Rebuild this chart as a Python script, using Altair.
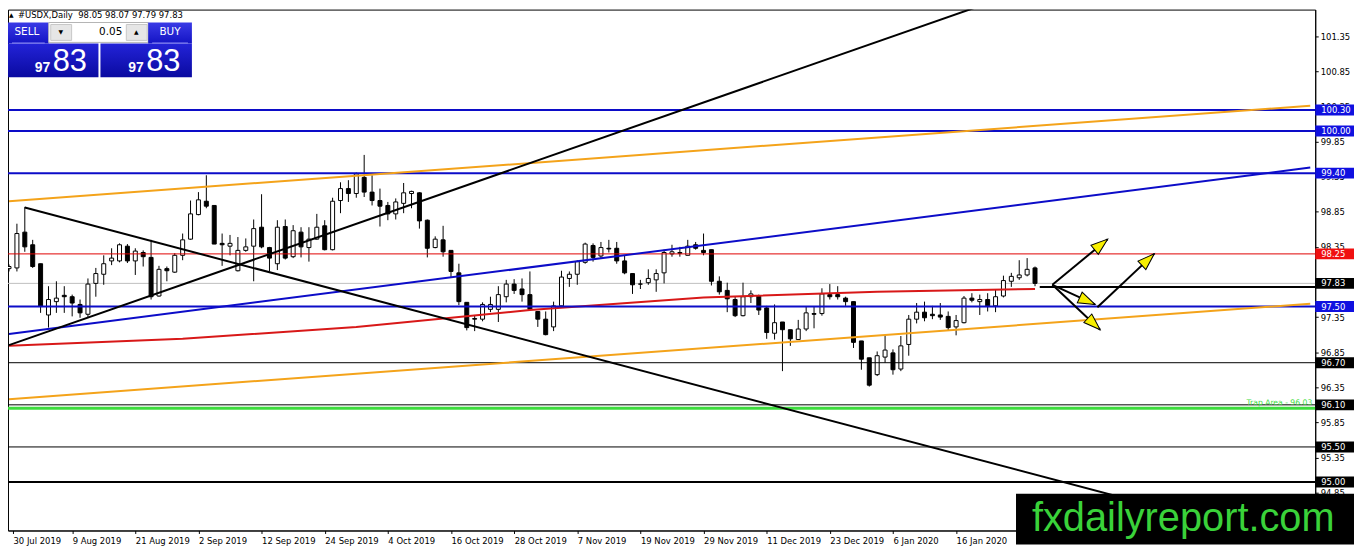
"""USDX daily chart in the MT4 look: candles, trend lines, levels, arrows and the one-click panel."""
import math

import altair as alt
import pandas as pd

FONT = "Liberation Sans"
UI_FONT = "DejaVu Sans"

# --- one candle per bar, 30 Jul 2019 .. end of Jan 2020 (bar index 0..130)
OPEN = [
    98.04, 98.05, 98.56, 98.38, 98.11, 97.38, 97.57, 97.66, 97.64, 97.53,
    97.39, 97.83, 97.96, 98.15, 98.15, 98.36, 98.15, 98.27, 98.20, 97.65,
    98.04, 97.99, 98.23, 98.46, 98.81, 99.00, 98.94, 98.40, 98.36, 98.01,
    98.30, 98.36, 98.63, 98.34, 98.11, 98.64, 98.21, 98.56, 98.34, 98.46,
    98.65, 98.31, 99.01, 99.18, 99.11, 99.34, 99.13, 99.01, 98.94, 98.82,
    98.97, 99.11, 99.12, 98.73, 98.34, 98.45, 98.30, 97.98, 97.56, 97.33,
    97.32, 97.46, 97.46, 97.64, 97.82, 97.75, 97.67, 97.43, 97.32, 97.21,
    97.51, 97.90, 97.96, 98.13, 98.37, 98.22, 98.33, 98.33, 98.15, 97.97,
    97.82, 97.84, 97.88, 97.98, 98.25, 98.27, 98.23, 98.38, 98.30, 98.31,
    97.86, 97.73, 97.60, 97.37, 97.64, 97.65, 97.48, 97.12, 97.28, 97.17,
    97.03, 97.18, 97.40, 97.40, 97.67, 97.67, 97.62, 97.57, 97.01, 96.77,
    96.53, 96.78, 96.84, 96.61, 96.96, 97.32, 97.42, 97.39, 97.38, 97.36,
    97.21, 97.27, 97.62, 97.57, 97.60, 97.51, 97.65, 97.86, 97.91, 97.95,
    98.05,
]
HIGH = [
    98.10, 98.68, 98.92, 98.45, 98.11, 97.79, 97.86, 97.79, 97.67, 97.60,
    97.90, 98.05, 98.23, 98.33, 98.40, 98.39, 98.33, 98.30, 98.45, 98.08,
    98.07, 98.26, 98.54, 99.01, 99.13, 99.37, 98.94, 98.54, 98.52, 98.49,
    98.47, 98.74, 99.10, 98.35, 98.73, 98.74, 98.66, 98.63, 98.63, 98.82,
    98.73, 99.05, 99.27, 99.30, 99.41, 99.66, 99.37, 99.18, 98.99, 99.04,
    99.26, 99.15, 99.13, 98.74, 98.50, 98.65, 98.30, 98.11, 97.56, 97.38,
    97.56, 97.64, 97.79, 97.88, 97.89, 97.90, 98.00, 97.43, 97.43, 97.57,
    98.01, 98.00, 98.16, 98.41, 98.40, 98.42, 98.45, 98.42, 98.23, 97.97,
    97.88, 98.03, 98.03, 98.31, 98.38, 98.35, 98.45, 98.42, 98.54, 98.31,
    97.93, 97.84, 97.64, 97.84, 97.73, 97.67, 97.51, 97.53, 97.28, 97.17,
    97.31, 97.50, 97.50, 97.76, 97.82, 97.79, 97.64, 97.57, 97.01, 96.77,
    96.86, 97.10, 96.89, 97.08, 97.38, 97.55, 97.57, 97.51, 97.55, 97.43,
    97.38, 97.65, 97.69, 97.67, 97.69, 97.74, 97.94, 97.98, 98.16, 98.19,
    98.07,
]
LOW = [
    98.00, 98.00, 98.28, 98.05, 97.41, 97.20, 97.41, 97.41, 97.36, 97.34,
    97.35, 97.64, 97.81, 98.09, 98.13, 98.12, 97.95, 98.07, 97.60, 97.64,
    97.86, 97.98, 98.16, 98.45, 98.80, 98.90, 98.39, 98.08, 98.23, 98.00,
    98.28, 97.86, 98.33, 98.00, 98.02, 98.17, 98.19, 98.20, 98.14, 98.45,
    98.30, 98.30, 98.83, 98.99, 99.05, 99.06, 98.94, 98.64, 98.73, 98.74,
    98.83, 98.90, 98.61, 98.20, 98.33, 98.21, 97.92, 97.52, 97.16, 97.15,
    97.29, 97.42, 97.28, 97.56, 97.68, 97.57, 97.45, 97.21, 97.09, 97.15,
    97.50, 97.78, 97.81, 98.11, 98.14, 98.19, 98.27, 98.11, 97.96, 97.68,
    97.75, 97.81, 97.71, 97.83, 98.21, 98.21, 98.23, 98.31, 98.23, 97.80,
    97.67, 97.42, 97.35, 97.36, 97.55, 97.38, 97.04, 97.03, 96.58, 96.94,
    97.03, 97.15, 97.19, 97.37, 97.60, 97.60, 97.51, 96.91, 96.60, 96.36,
    96.51, 96.70, 96.53, 96.58, 96.80, 97.26, 97.29, 97.32, 97.31, 97.16,
    97.09, 97.26, 97.56, 97.38, 97.43, 97.42, 97.63, 97.78, 97.88, 97.93,
    97.79,
]
CLOSE = [
    98.07, 98.54, 98.35, 98.07, 97.50, 97.60, 97.62, 97.64, 97.55, 97.41,
    97.82, 97.97, 98.11, 98.19, 98.38, 98.15, 98.29, 98.21, 97.64, 98.03,
    98.01, 98.23, 98.45, 98.82, 99.02, 98.93, 98.39, 98.38, 98.40, 98.30,
    98.35, 98.61, 98.35, 98.19, 98.63, 98.19, 98.58, 98.35, 98.46, 98.63,
    98.31, 99.00, 99.18, 99.11, 99.39, 99.13, 99.01, 98.93, 98.82, 98.99,
    99.12, 99.14, 98.72, 98.33, 98.46, 98.28, 98.00, 97.57, 97.20, 97.32,
    97.53, 97.53, 97.67, 97.82, 97.73, 97.67, 97.46, 97.32, 97.10, 97.51,
    97.92, 97.96, 98.14, 98.39, 98.20, 98.34, 98.32, 98.15, 97.98, 97.81,
    97.82, 97.90, 97.97, 98.27, 98.28, 98.26, 98.36, 98.33, 98.27, 97.86,
    97.71, 97.61, 97.37, 97.64, 97.68, 97.45, 97.13, 97.27, 97.17, 97.04,
    97.18, 97.41, 97.39, 97.68, 97.64, 97.64, 97.57, 96.99, 96.75, 96.38,
    96.80, 96.88, 96.60, 96.94, 97.32, 97.42, 97.34, 97.37, 97.35, 97.20,
    97.30, 97.62, 97.59, 97.60, 97.51, 97.64, 97.87, 97.93, 97.95, 98.03,
    97.83,
]

# --- time axis labels (bar index -> date)
TICK_BARS = [0, 8, 16, 24, 32, 40, 48, 56, 64, 72, 80, 88, 96, 104, 112, 120]
TICK_DATES = ["30 Jul 2019", "9 Aug 2019", "21 Aug 2019", "2 Sep 2019", "12 Sep 2019",
              "24 Sep 2019", "4 Oct 2019", "16 Oct 2019", "28 Oct 2019", "7 Nov 2019",
              "19 Nov 2019", "29 Nov 2019", "11 Dec 2019", "23 Dec 2019", "6 Jan 2020",
              "16 Jan 2020"]
PRICE_TICKS = [101.35, 100.85, 100.35, 99.85, 99.35, 98.85, 98.35, 97.85, 97.35,
               96.85, 96.35, 95.85, 95.35, 94.85]

# --- horizontal levels
LEVEL_PRICES = [100.30, 100.00, 99.40, 98.25, 97.50, 96.70, 96.10, 95.50, 95.00]
LEVEL_KIND = ["blue", "blue", "blue", "red", "blue", "thin", "thin", "thin", "thick"]
BID = 97.83
TRAP = 96.05
TRAP_TEXT = "Trap Area - 96.03"

# --- price tags on the right scale
TAG_PRICES = [100.30, 100.00, 99.40, 98.25, 97.83, 97.50, 96.70, 96.10, 95.50, 95.00]
TAG_TEXT = ["100.30", "100.00", "99.40", "98.25", "97.83", "97.50", "96.70", "96.10", "95.50", "95.00"]
TAG_BG = ["#1010e0", "#1010e0", "#1010e0", "#f01010", "#000000", "#1010e0",
          "#000000", "#000000", "#000000", "#000000"]

# --- trend lines (bar index, price) -> (bar index, price)
TREND_KIND = ["orange", "orange", "blue", "black", "black"]
TREND_X0 = [0, 0, 0, 0, 2]
TREND_P0 = [99.00, 96.18, 97.11, 96.95, 98.91]
TREND_X1 = [164.875, 164.875, 164.875, 125, 164.875]
TREND_P1 = [100.36, 97.54, 99.48, 101.86, 94.07]

# --- moving average
MA_BARS = [0, 22, 44, 66, 88, 110, 130]
MA_VALUES = [96.94, 97.04, 97.21, 97.45, 97.63, 97.71, 97.75]

# --- horizontal ray from the last bar, and the scenario arrows
RAY_BAR, RAY_PRICE = 130.6, 97.78
ARROW_X0 = [132.2, 132.2, 132.2, 137.9]
ARROW_P0 = [97.81, 97.81, 97.81, 97.49]
ARROW_X1 = [139.2, 137.6, 138.25, 145.1]
ARROW_P1 = [98.46, 97.53, 97.17, 98.25]

W, H = 1315, 524               # plot area in px
X_LO, X_HI = 0.5, 164.875      # bar index at the left / right border
Y_LO, Y_HI = 94.31, 101.73
PX_BAR = W / (X_HI - X_LO)
PX_PT = H / (Y_HI - Y_LO)

BLUE = "#0c0cc8"
ORANGE = "#f4a31a"
STYLE_COLOR = {"blue": BLUE, "red": "#e00000", "thin": "black", "thick": "black",
               "orange": ORANGE, "black": "black"}
STYLE_WIDTH = {"blue": 2, "red": 1, "thin": 1, "thick": 2}

XS = alt.Scale(domain=[X_LO, X_HI], nice=False, zero=False)
YS = alt.Scale(domain=[Y_LO, Y_HI], nice=False, zero=False)
DECO = pd.DataFrame({"k": [0]})

tick_vals = [max(b, X_LO) for b in TICK_BARS]
label_expr = "{" + ", ".join(f"'{v:g}': '{t}'" for v, t in zip(tick_vals, TICK_DATES)) + "}[datum.value]"
X_AXIS = alt.Axis(values=tick_vals, labelExpr=label_expr, labelAlign="left", labelBaseline="top",
                  labelPadding=3, tickSize=3, labelOverlap=False, labelFlush=False,
                  labelBound=False, grid=False, labelFontSize=8.5)
Y_AXIS = alt.Axis(orient="right", values=PRICE_TICKS, format=".2f", tickSize=3, labelPadding=2,
                  labelOverlap=False, labelFlush=False, grid=False, labelFontSize=8.5)


def xq(field):
    # every layer carries the same axis so the shared axis merges cleanly
    return alt.X(f"{field}:Q", scale=XS, axis=X_AXIS, title=None)


def yq(field):
    return alt.Y(f"{field}:Q", scale=YS, axis=Y_AXIS, title=None)


def box(x, y, w, h, fill, **kw):
    """A fixed-pixel rectangle (panel decoration)."""
    return alt.Chart(DECO).mark_rect(fill=fill, **kw).encode(
        x=alt.value(x), x2=alt.value(x + w), y=alt.value(y), y2=alt.value(y + h))


def label(x, y, text, size, color="white", **kw):
    """A fixed-pixel piece of text (panel decoration)."""
    opts = dict(align="left", baseline="middle", font=UI_FONT)
    opts.update(kw)
    return alt.Chart(DECO).mark_text(text=text, fontSize=size, color=color, **opts).encode(
        x=alt.value(x), y=alt.value(y))


def grad(top, bottom):
    return alt.LinearGradient(gradient="linear", x1=0, x2=0, y1=0, y2=1,
                              stops=[alt.GradientStop(color=top, offset=0),
                                     alt.GradientStop(color=bottom, offset=1)])


candles = pd.DataFrame({"bar": range(len(OPEN)), "open": OPEN, "high": HIGH,
                        "low": LOW, "close": CLOSE})
candles["body"] = ["white" if c >= o else "black" for o, c in zip(OPEN, CLOSE)]

bid = alt.Chart(pd.DataFrame({"price": [BID]})).mark_rule(color="#c0c0c0", strokeWidth=1).encode(
    y=yq("price"))

wicks = alt.Chart(candles).mark_rule(color="black", strokeWidth=1, clip=True).encode(
    x=xq("bar"), y=yq("low"), y2="high:Q")

bodies = alt.Chart(candles).mark_bar(size=4, stroke="black", strokeWidth=1, clip=True).encode(
    x=xq("bar"), y=yq("open"), y2="close:Q", fill=alt.Fill("body:N", scale=None))

ma = alt.Chart(pd.DataFrame({"bar": MA_BARS, "ma": MA_VALUES})).mark_line(
    color="#d81818", strokeWidth=2, clip=True).encode(x=xq("bar"), y=yq("ma"))

levels_df = pd.DataFrame({"price": LEVEL_PRICES,
                          "col": [STYLE_COLOR[k] for k in LEVEL_KIND],
                          "w": [STYLE_WIDTH[k] for k in LEVEL_KIND]})
levels = alt.Chart(levels_df).mark_rule().encode(
    y=yq("price"), color=alt.Color("col:N", scale=None),
    strokeWidth=alt.StrokeWidth("w:Q", scale=None))

trap_df = pd.DataFrame({"price": [TRAP], "txt": [TRAP_TEXT]})
trap = alt.Chart(trap_df).mark_rule(color="#3ddc3d", strokeWidth=3).encode(y=yq("price"))
trap_txt = alt.Chart(trap_df).mark_text(align="right", baseline="bottom", dy=-1, fontSize=7.7,
                                        font=UI_FONT, color="#44dd44").encode(
    x=alt.value(W - 3), y=yq("price"), text="txt:N")

trends_df = pd.DataFrame({"x0": TREND_X0, "p0": TREND_P0, "x1": TREND_X1, "p1": TREND_P1,
                          "col": [STYLE_COLOR[k] for k in TREND_KIND]})
trends = alt.Chart(trends_df).mark_rule(strokeWidth=2, clip=True).encode(
    x=xq("x0"), x2="x1:Q", y=yq("p0"), y2="p1:Q", color=alt.Color("col:N", scale=None))

ray = alt.Chart(pd.DataFrame({"bar": [RAY_BAR], "price": [RAY_PRICE]})).mark_rule(
    color="black", strokeWidth=2).encode(x=xq("bar"), x2=alt.value(W + 39), y=yq("price"))

arrows_df = pd.DataFrame({"x0": ARROW_X0, "p0": ARROW_P0, "x1": ARROW_X1, "p1": ARROW_P1})
arrows_df["angle"] = [math.degrees(math.atan2((b - a) * PX_BAR, (q - p) * PX_PT)) % 360
                      for a, p, b, q in zip(ARROW_X0, ARROW_P0, ARROW_X1, ARROW_P1)]
arrow_lines = alt.Chart(arrows_df).mark_rule(color="black", strokeWidth=2).encode(
    x=xq("x0"), x2="x1:Q", y=yq("p0"), y2="p1:Q")
arrow_heads = alt.Chart(arrows_df).mark_point(
    shape="M0,0L0.62,1.8L-0.62,1.8Z", filled=True, fill="#f7ef00", stroke="black",
    strokeWidth=1, size=353, opacity=1).encode(
    x=xq("x1"), y=yq("p1"), angle=alt.Angle("angle:Q", scale=None))

# price tags: a filled box from the axis line to the page edge, text left-aligned in it
tags_df = pd.DataFrame({"price": TAG_PRICES, "tag": TAG_TEXT, "bg": TAG_BG})
tag_boxes = alt.Chart(tags_df).mark_point(
    shape="M-1.6,-0.45L1.6,-0.45L1.6,0.45L-1.6,0.45Z", filled=True, size=594, opacity=1).encode(
    x=alt.value(W + 19.5), y=yq("price"), fill=alt.Fill("bg:N", scale=None))
tag_text = alt.Chart(tags_df).mark_text(color="white", fontSize=8.5, font=UI_FONT,
                                        align="left").encode(
    x=alt.value(W + 6), y=yq("price"), text="tag:N")

watermark = [
    box(1014, 487, 340, 51, "black"),
    label(1030, 525, "fxdailyreport.com", 40, color="#3ad23a", baseline="alphabetic", font=FONT),
]

head = grad("#3a3ae6", "#1414c4")
price_bg = grad("#2323d8", "#0a0aa0")
panel = [
    label(1, 5, "\u25b2", 6, color="black"),
    label(10, 5, "#USDX,Daily\u00a0\u00a098.05\u00a098.07\u00a097.79\u00a097.83", 8.5,
          color="black"),
    box(0, 13, 41, 21, head),
    box(41, 13, 100, 20, "white", stroke="#b4b4b4", strokeWidth=1),
    box(43, 15, 21, 16, "#e6e6e6", stroke="#c8c8c8", strokeWidth=1),
    box(119, 15, 21, 16, "#e6e6e6", stroke="#c8c8c8", strokeWidth=1),
    box(141, 13, 44, 21, head),
    box(0, 34, 91, 34, price_bg),
    box(93, 34, 92, 34, price_bg),
    box(4, 33, 33, 1, "#8a8af5"),
    box(145, 33, 36, 1, "#8a8af5"),
    label(19, 23, "SELL", 10.5, align="center"),
    label(163, 23, "BUY", 10.5, align="center"),
    label(53, 23, "\u25bc", 6, color="black", align="center"),
    label(129, 23, "\u25b2", 6, color="black", align="center"),
    label(115, 23, "0.05", 10.5, color="black", align="right"),
    label(27, 63, "97", 14, baseline="alphabetic", fontWeight="bold", font=FONT),
    label(45, 62, "83", 31, baseline="alphabetic", font=FONT),
    label(121, 63, "97", 14, baseline="alphabetic", fontWeight="bold", font=FONT),
    label(139, 62, "83", 31, baseline="alphabetic", font=FONT),
]

chart = alt.layer(
    bid, wicks, bodies, ma, levels, trap, trap_txt, trends, ray, arrow_lines, arrow_heads,
    tag_boxes, tag_text, *watermark, *panel,
).properties(
    width=W, height=H, background="white",
    autosize=alt.AutoSizeParams(type="none"),
    padding={"left": 0, "top": 0, "right": 39, "bottom": 14},
).configure_view(
    stroke="black", strokeWidth=1, fill="white",
).configure_axis(
    domainColor="black", tickColor="black", labelColor="black", labelFont=UI_FONT,
)

chart.save("out.html", embed_options={"renderer": "svg", "actions": False})
